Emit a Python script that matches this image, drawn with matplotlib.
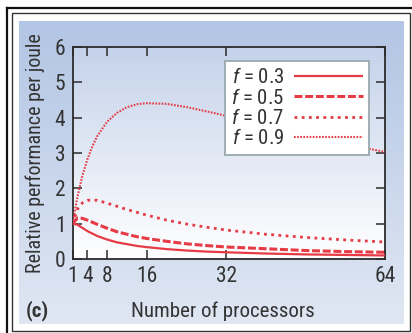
import numpy as np
import matplotlib
matplotlib.use("Agg")
import matplotlib.pyplot as plt
from matplotlib.lines import Line2D
from matplotlib.patches import Rectangle

plt.rcParams['font.family'] = ['Roboto Condensed', 'Archivo Narrow', 'DejaVu Sans']
plt.rcParams['mathtext.fontset'] = 'custom'
plt.rcParams['mathtext.it'] = 'Roboto Condensed:italic'
plt.rcParams['mathtext.rm'] = 'Roboto Condensed'

# Number of processors and relative performance per joule for each parallel fraction f
processors = [1, 2, 3, 4, 5, 6, 8, 10, 12, 14, 16, 20, 24, 28, 32, 40, 48, 56, 64]
perf_f03 = [1.00, 0.97, 0.88, 0.79, 0.72, 0.65, 0.55, 0.47, 0.42, 0.37, 0.335, 0.28, 0.24, 0.21, 0.19, 0.155, 0.13, 0.115, 0.10]
perf_f05 = [1.00, 1.16, 1.15, 1.10, 1.04, 0.98, 0.87, 0.77, 0.70, 0.63, 0.58, 0.50, 0.43, 0.38, 0.34, 0.29, 0.24, 0.21, 0.19]
perf_f07 = [1.00, 1.41, 1.59, 1.66, 1.67, 1.66, 1.58, 1.49, 1.40, 1.32, 1.24, 1.10, 0.99, 0.90, 0.82, 0.70, 0.61, 0.54, 0.48]
perf_f09 = [1.00, 1.76, 2.36, 2.82, 3.19, 3.48, 3.89, 4.14, 4.30, 4.38, 4.41, 4.39, 4.30, 4.18, 4.05, 3.76, 3.49, 3.25, 3.03]
series_labels = [r'$f$ = 0.3', r'$f$ = 0.5', r'$f$ = 0.7', r'$f$ = 0.9']

x_ticks = [1, 4, 8, 16, 32, 64]
y_ticks = [0, 1, 2, 3, 4, 5, 6]

W, H = 412, 333
RED = '#e63a45'
INK = '#2b2b2b'
TXT = '#333333'

fig = plt.figure(figsize=(W / 100, H / 100), dpi=100)
fig.patch.set_facecolor('white')

def fx(px):
    return px / W

def fy(py):
    return 1 - py / H

# Double border around the figure
fig.add_artist(Line2D([fx(7.5), 1.0], [fy(8), fy(8)], color='#111111', lw=1.6, transform=fig.transFigure))
fig.add_artist(Line2D([fx(7.5), fx(7.5)], [fy(8), 0.0], color='#111111', lw=1.6, transform=fig.transFigure))
fig.add_artist(Rectangle((fx(11.5), fy(331)), fx(410) - fx(11.5), fy(12.5) - fy(331),
                         fill=False, edgecolor='#333333', lw=1.0, transform=fig.transFigure))

# Light-blue panel behind the chart
panel = fig.add_axes([fx(19), fy(324), fx(404) - fx(19), fy(21) - fy(324)], zorder=0)
top_c = np.array([0xb2, 0xc5, 0xe4]) / 255
bot_c = np.array([0xe0, 0xe7, 0xf3]) / 255
t = np.linspace(0, 1, 256)[:, None]
grad = (top_c * (1 - t) + bot_c * t)[:, None, :]
panel.imshow(grad, aspect='auto', extent=[0, 1, 0, 1])
panel.set_axis_off()

# Plot area
ax = fig.add_axes([fx(72.5), fy(259), fx(385) - fx(72.5), fy(47) - fy(259)], zorder=1)
ptop = np.array([0xc4, 0xd2, 0xea]) / 255
pbot = np.array([0xff, 0xff, 0xff]) / 255
pgrad = (ptop * (1 - t) + pbot * t)[:, None, :]
ax.imshow(pgrad, aspect='auto', extent=[1, 64, 0, 6], zorder=0)

l03, = ax.plot(processors, perf_f03, color=RED, lw=1.6, solid_capstyle='butt', zorder=3)
l05, = ax.plot(processors, perf_f05, color=RED, lw=2.2, linestyle=(0, (2.6, 0.9)), zorder=3)
l07, = ax.plot(processors, perf_f07, color=RED, lw=2.0, linestyle=(0, (1.0, 1.6)), zorder=3)
l09, = ax.plot(processors, perf_f09, color=RED, lw=1.5, linestyle=(0, (0.8, 0.7)), zorder=3)

ax.set_xlim(1, 64)
ax.set_ylim(0, 6)
ax.set_xticks(x_ticks)
ax.set_yticks(y_ticks)
ax.set_xticklabels([str(v) for v in x_ticks])
ax.set_yticklabels([str(v) for v in y_ticks])
ax.tick_params(axis='both', direction='in', length=6.5, width=1.1, color=INK,
               labelsize=15.5, labelcolor=TXT, top=True, right=True,
               labeltop=False, labelright=False)
ax.tick_params(axis='x', pad=5)
ax.tick_params(axis='y', pad=5)
for s in ax.spines.values():
    s.set_color(INK)
    s.set_linewidth(1.3)

fig.text(fx(223), fy(311), 'Number of processors', fontsize=15, color=TXT,
         ha='center', va='center')
fig.text(fx(35), fy(153), 'Relative performance per joule', rotation=90,
         fontsize=14.4, color=TXT, ha='center', va='center')
fig.text(fx(37), fy(311), '(c)', fontsize=15, fontweight='bold', color=TXT,
         ha='center', va='center')

leg = ax.legend([l03, l05, l07, l09], series_labels, loc='upper left',
                bbox_to_anchor=(fx(225), fy(61)), bbox_transform=fig.transFigure,
                borderaxespad=0, fontsize=15, markerfirst=False, handlelength=3.3,
                handletextpad=0.45, labelspacing=0.02, borderpad=0.3,
                fancybox=False, framealpha=1, facecolor='white', edgecolor='#98a9ae')
leg.get_frame().set_linewidth(1.3)
for txt in leg.get_texts():
    txt.set_color(TXT)
leg.set_zorder(5)

fig.savefig('out.png', dpi=100)
